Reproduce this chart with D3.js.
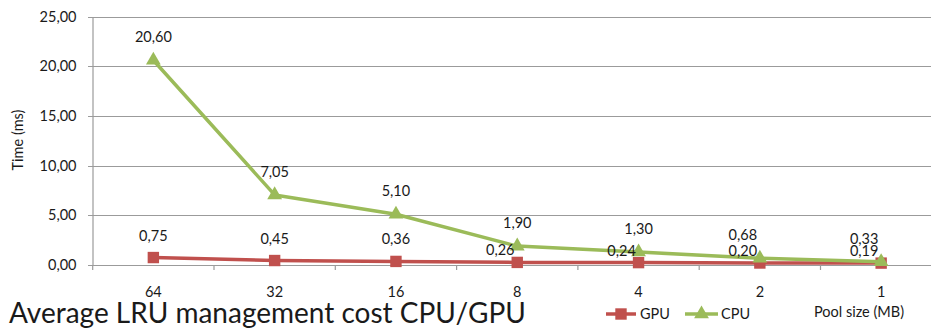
<!DOCTYPE html>
<html>
<head>
<meta charset="utf-8">
<script src="https://cdn.jsdelivr.net/npm/d3@7"></script>
<style>
  html, body { margin: 0; padding: 0; background: #fff; }
  svg { display: block; }
  text { font-family: Lato, "Open Sans", sans-serif; fill: #1a1a1a; }
</style>
</head>
<body>
<script>
// Pool sizes (MB) on the category axis
const poolSizes = ["64", "32", "16", "8", "4", "2", "1"];
// Average LRU management time (ms)
const gpuTimes = [0.75, 0.45, 0.36, 0.26, 0.24, 0.20, 0.19];
const cpuTimes = [20.60, 7.05, 5.10, 1.90, 1.30, 0.68, 0.33];
const yTicks = [0, 5, 10, 15, 20, 25];

const W = 931, H = 328;
const FS = "14.5px";
const fmt = v => v.toFixed(2).replace(".", ",");

const svg = d3.select("body").append("svg")
  .attr("width", W).attr("height", H);

const x = d3.scalePoint().domain(poolSizes).range([92.7, 941.8]).padding(0.5);
const y = d3.scaleLinear().domain([0, 25]).range([265, 16.5]);
const step = x.step();

// horizontal gridlines
svg.append("g").selectAll("line").data(yTicks).join("line")
  .attr("x1", 88).attr("x2", W)
  .attr("y1", d => Math.round(y(d)) + 0.5).attr("y2", d => Math.round(y(d)) + 0.5)
  .attr("stroke", "#9b9b9b").attr("stroke-width", 1.2);

// value axis
const yAxis = d3.axisLeft(y).tickValues(yTicks).tickFormat(fmt).tickSize(0).tickPadding(16);
const gy = svg.append("g").attr("transform", "translate(92.5,0)").call(yAxis);
gy.select(".domain").attr("stroke", "#9b9b9b").attr("stroke-width", 1.2);
gy.selectAll("text").style("font-size", FS).style("font-family", "Lato, sans-serif").attr("fill", "#1a1a1a");

// category axis tick marks between categories
const tickX = d3.range(poolSizes.length + 1).map(i => x(poolSizes[0]) - step / 2 + i * step);
svg.append("g").selectAll("line").data(tickX).join("line")
  .attr("x1", d => d).attr("x2", d => d)
  .attr("y1", 265).attr("y2", 270)
  .attr("stroke", "#9b9b9b").attr("stroke-width", 1.2);

// category labels
svg.append("g").selectAll("text").data(poolSizes).join("text")
  .attr("x", d => x(d)).attr("y", 292).attr("dy", "0.35em")
  .attr("text-anchor", "middle").style("font-size", FS)
  .text(d => d);

// Y axis title
svg.append("text")
  .attr("transform", "translate(18,140) rotate(-90)")
  .attr("text-anchor", "middle").attr("dy", "0.35em")
  .style("font-size", FS)
  .text("Time (ms)");

const series = [
  { name: "GPU", values: gpuTimes, color: "#C0504D", marker: "square" },
  { name: "CPU", values: cpuTimes, color: "#9BBB59", marker: "triangle" }
];

const line = d3.line().x((d, i) => x(poolSizes[i])).y(d => y(d));
const sqSym = d3.symbol().type(d3.symbolSquare).size(130);
const triSym = d3.symbol().type(d3.symbolTriangle).size(95);

series.forEach(s => {
  const g = svg.append("g");
  g.append("path").datum(s.values)
    .attr("d", line).attr("fill", "none")
    .attr("stroke", s.color).attr("stroke-width", 3.5).attr("stroke-linejoin", "round");
  g.selectAll("path.m").data(s.values).join("path").attr("class", "m")
    .attr("transform", (d, i) => `translate(${x(poolSizes[i])},${y(d)})`)
    .attr("d", s.marker === "square" ? sqSym : triSym)
    .attr("fill", s.color);
});

// data labels: above each point, pushed to the left where the two series crowd each other
const labels = svg.append("g").style("font-size", FS);
poolSizes.forEach((p, i) => {
  const cx = x(p);
  const gap = y(gpuTimes[i]) - y(cpuTimes[i]);
  const cpuLeft = cpuTimes[i] - gpuTimes[i] < 0.6;
  labels.append("text")
    .attr("x", cpuLeft ? cx - 17 : cx).attr("y", y(cpuTimes[i]) - 23).attr("dy", "0.35em")
    .attr("text-anchor", "middle").text(fmt(cpuTimes[i]));
  const gpuLeft = gap < 24;
  labels.append("text")
    .attr("x", gpuLeft ? cx - 17 : cx).attr("y", y(gpuTimes[i]) - (gpuLeft ? 12 : 22)).attr("dy", "0.35em")
    .attr("text-anchor", "middle").text(fmt(gpuTimes[i]));
});

// legend
const legend = svg.append("g").style("font-size", FS);
const legItems = [
  { s: series[0], x0: 606, x1: 636, tx: 640 },
  { s: series[1], x0: 685, x1: 718, tx: 721 }
];
legItems.forEach(it => {
  legend.append("line").attr("x1", it.x0).attr("x2", it.x1).attr("y1", 314).attr("y2", 314)
    .attr("stroke", it.s.color).attr("stroke-width", 3.5);
  legend.append("path")
    .attr("transform", `translate(${(it.x0 + it.x1) / 2},314)`)
    .attr("d", it.s.marker === "square" ? sqSym : triSym)
    .attr("fill", it.s.color);
  legend.append("text").attr("x", it.tx).attr("y", 314).attr("dy", "0.35em").text(it.s.name);
});

// category axis title
svg.append("text").attr("x", 859).attr("y", 312).attr("dy", "0.35em")
  .attr("text-anchor", "middle").style("font-size", FS)
  .text("Pool size (MB)");

// chart title
svg.append("text").attr("x", 9).attr("y", 323)
  .style("font-size", "28px").style("font-family", "Lato, sans-serif")
  .attr("fill", "#111")
  .text("Average LRU management cost CPU/GPU");
</script>
</body>
</html>
